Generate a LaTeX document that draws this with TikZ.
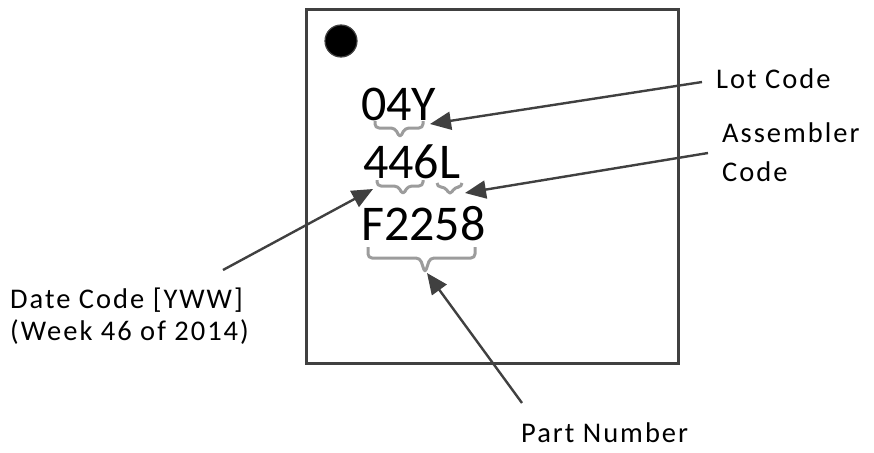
\documentclass[tikz,border=0pt]{standalone}
\usepackage{fontspec}
\setmainfont{Carlito}
\newfontfamily\lblfont[LetterSpace=7]{Carlito}
\usetikzlibrary{arrows.meta}
\definecolor{edgegray}{HTML}{404040}
\definecolor{bracegray}{HTML}{9C9C9C}
\tikzset{
  bigtext/.style={anchor=base west,inner sep=0pt,font=\fontsize{50}{60}\selectfont},
  lbltext/.style={anchor=base west,inner sep=0pt,font=\lblfont\fontsize{28.5}{36}\selectfont},
  pointer/.style={draw=edgegray,line width=2.4pt,-{Triangle[length=21pt,width=18pt]}},
  bracemark/.style={draw=bracegray,line width=3pt,rounded corners=4pt,line join=round},
}
% x1, x2, top, bar, tip, xmid
\newcommand{\mkbrace}[6]{%
  \draw[bracemark] (#1,#3) -- (#1,#4) -- ({#6-5},#4) -- (#6,#5) -- ({#6+5},#4) -- (#2,#4) -- (#2,#3);}
\begin{document}
\begin{tikzpicture}[x=1pt,y=-1pt]
\useasboundingbox (0,0) rectangle (874,452);
% package outline
\draw[edgegray,line width=3pt] (306,10) rectangle (678,363);
\fill[black] (341,41) circle (16);
\draw[edgegray,line width=1.2pt] (341,41) circle (16);
% marking text
\node[bigtext] (l1) at (361,120) {04Y};
\node[bigtext] (l2) at (363,178) {446L};
\node[bigtext] (l3) at (361,240) {F2258};
% braces
\mkbrace{375}{423}{121}{128}{138}{400}
\mkbrace{377}{423}{180}{186}{195}{403}
\mkbrace{437}{462}{183}{187}{195}{450}
\mkbrace{368}{475}{247}{258}{273}{425}
\coordinate (tlot) at (430,124);
\coordinate (tasm) at (465,193);
\coordinate (tdate) at (373,189);
\coordinate (tpart) at (427,273);
% labels
\node[lbltext] (lot) at (716,88) {Lot Code};
\node[lbltext] (asm) at (722,142) {Assembler};
\node[lbltext] (asm2) at (722,181) {Code};
\node[lbltext] (date) at (10,308) {Date Code [YWW]};
\node[lbltext] (date2) at (10,340) {(Week 46 of 2014)};
\node[lbltext] (part) at (521,442) {Part Number};
\coordinate (slot) at (702,82);
\coordinate (sasm) at (708,153);
\coordinate (sdate) at (223,270);
\coordinate (spart) at (522,403);
% pointers
\draw[pointer] (slot) -- (tlot);
\draw[pointer] (sasm) -- (tasm);
\draw[pointer] (sdate) -- (tdate);
\draw[pointer] (spart) -- (tpart);
\end{tikzpicture}
\end{document}
